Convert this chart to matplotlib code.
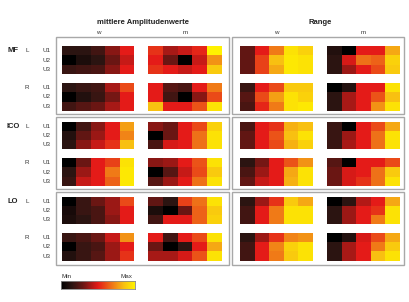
import numpy as np
import matplotlib
matplotlib.use("Agg")
import matplotlib.pyplot as plt
from matplotlib.colors import LinearSegmentedColormap
from matplotlib.patches import Rectangle

plt.rcParams["font.family"] = ["Liberation Sans", "DejaVu Sans"]

# werte 0 (min) .. 1 (max); je Liste: [L, R], je 3 Zeilen (U1..U3) x 5 Spalten
mf_amp_w = [[[0.15, 0.15, 0.20, 0.35, 0.50],
             [0.00, 0.10, 0.15, 0.30, 0.45],
             [0.18, 0.20, 0.22, 0.35, 0.50]],
            [[0.15, 0.18, 0.20, 0.40, 0.60],
             [0.00, 0.12, 0.18, 0.32, 0.50],
             [0.20, 0.25, 0.30, 0.40, 0.50]]]
mf_amp_m = [[[0.55, 0.40, 0.45, 0.52, 1.00],
             [0.50, 0.30, 0.00, 0.45, 0.75],
             [0.55, 0.50, 0.45, 0.50, 0.88]],
            [[0.50, 0.25, 0.22, 0.50, 0.70],
             [0.50, 0.20, 0.00, 0.35, 0.60],
             [0.85, 0.50, 0.50, 0.62, 0.95]]]
mf_rng_w = [[[0.28, 0.50, 0.70, 0.95, 0.90],
             [0.28, 0.58, 0.85, 0.97, 0.95],
             [0.28, 0.58, 0.80, 0.97, 0.95]],
            [[0.18, 0.50, 0.60, 0.88, 0.88],
             [0.25, 0.60, 0.78, 0.95, 0.90],
             [0.22, 0.52, 0.70, 0.95, 0.97]]]
mf_rng_m = [[[0.12, 0.00, 0.50, 0.50, 0.80],
             [0.15, 0.48, 0.68, 0.65, 0.90],
             [0.15, 0.38, 0.50, 0.60, 0.88]],
            [[0.00, 0.12, 0.50, 0.50, 0.95],
             [0.15, 0.40, 0.50, 0.62, 0.85],
             [0.15, 0.40, 0.50, 0.75, 0.95]]]

ico_amp_w = [[[0.00, 0.20, 0.35, 0.50, 0.78],
              [0.12, 0.28, 0.38, 0.50, 0.72],
              [0.15, 0.35, 0.45, 0.55, 0.85]],
             [[0.00, 0.30, 0.50, 0.58, 0.95],
              [0.15, 0.38, 0.50, 0.70, 0.97],
              [0.18, 0.45, 0.50, 0.65, 0.97]]]
ico_amp_m = [[[0.35, 0.30, 0.50, 0.60, 0.90],
              [0.00, 0.30, 0.50, 0.68, 0.95],
              [0.22, 0.48, 0.50, 0.68, 0.95]],
             [[0.35, 0.38, 0.50, 0.62, 0.95],
              [0.00, 0.25, 0.45, 0.60, 0.88],
              [0.25, 0.38, 0.50, 0.68, 0.95]]]
ico_rng_w = [[[0.22, 0.50, 0.55, 0.82, 0.85],
              [0.28, 0.50, 0.62, 0.85, 0.95],
              [0.28, 0.50, 0.60, 0.82, 0.90]],
             [[0.15, 0.32, 0.50, 0.62, 0.75],
              [0.22, 0.38, 0.50, 0.80, 0.95],
              [0.28, 0.45, 0.50, 0.82, 0.95]]]
ico_rng_m = [[[0.18, 0.00, 0.50, 0.60, 0.80],
              [0.18, 0.38, 0.50, 0.68, 0.95],
              [0.18, 0.40, 0.50, 0.68, 0.95]],
             [[0.25, 0.00, 0.50, 0.50, 0.60],
              [0.30, 0.48, 0.50, 0.68, 0.88],
              [0.30, 0.48, 0.55, 0.68, 0.95]]]

lo_amp_w = [[[0.00, 0.18, 0.30, 0.38, 0.60],
             [0.08, 0.18, 0.22, 0.38, 0.50],
             [0.10, 0.15, 0.22, 0.35, 0.50]],
            [[0.18, 0.22, 0.30, 0.45, 0.75],
             [0.00, 0.18, 0.22, 0.38, 0.50],
             [0.12, 0.18, 0.25, 0.38, 0.55]]]
lo_amp_m = [[[0.28, 0.15, 0.58, 0.68, 0.95],
             [0.10, 0.00, 0.30, 0.65, 0.88],
             [0.20, 0.50, 0.50, 0.65, 0.90]],
            [[0.50, 0.20, 0.50, 0.60, 0.95],
             [0.30, 0.00, 0.15, 0.50, 0.80],
             [0.40, 0.40, 0.48, 0.62, 0.95]]]
lo_rng_w = [[[0.15, 0.38, 0.55, 0.88, 0.80],
             [0.20, 0.50, 0.70, 0.95, 0.95],
             [0.20, 0.50, 0.70, 0.95, 0.95]],
            [[0.15, 0.38, 0.55, 0.72, 0.75],
             [0.20, 0.50, 0.72, 0.90, 0.95],
             [0.20, 0.50, 0.70, 0.88, 0.95]]]
lo_rng_m = [[[0.00, 0.15, 0.42, 0.50, 0.80],
             [0.15, 0.38, 0.50, 0.55, 0.95],
             [0.15, 0.38, 0.50, 0.70, 0.95]],
            [[0.00, 0.12, 0.48, 0.60, 0.80],
             [0.15, 0.40, 0.50, 0.70, 0.88],
             [0.15, 0.40, 0.50, 0.85, 0.95]]]

groups = ["MF", "ICO", "LO"]
sides = ["L", "R"]
rows = ["U1", "U2", "U3"]
measures = ["mittlere Amplitudenwerte", "Range"]
sexes = ["w", "m"]
data = {
    "MF": [mf_amp_w, mf_amp_m, mf_rng_w, mf_rng_m],
    "ICO": [ico_amp_w, ico_amp_m, ico_rng_w, ico_rng_m],
    "LO": [lo_amp_w, lo_amp_m, lo_rng_w, lo_rng_m],
}

cmap = LinearSegmentedColormap.from_list("minmax", [
    (0.00, "#000000"), (0.15, "#2c1512"), (0.30, "#6b1714"),
    (0.50, "#e41b18"), (0.70, "#f07a18"), (0.85, "#f8c012"),
    (1.00, "#fff200")])

W, H = 410, 302
fig = plt.figure(figsize=(W / 100, H / 100), dpi=100)


def box(x0, y0, x1, y1):
    # pixel coords (top-left origin) -> figure fraction
    return [x0 / W, 1 - y1 / H, (x1 - x0) / W, (y1 - y0) / H]


def ftxt(x, y, s, **kw):
    fig.text(x / W, 1 - y / H, s, ha="center", va="center", **kw)


col_x = [(62, 134), (148, 222), (240, 313), (327, 400)]
row_y = {"MF": [(46, 74), (83, 111)],
         "ICO": [(122, 149), (158, 186)],
         "LO": [(197, 224), (233, 261)]}
panel_y = {"MF": (37, 114), "ICO": (117, 189), "LO": (192, 265)}
panel_x = [(56, 229), (232, 404)]

for g in groups:
    for px0, px1 in panel_x:
        py0, py1 = panel_y[g]
        fig.patches.append(Rectangle((px0 / W, 1 - py1 / H), (px1 - px0) / W,
                                     (py1 - py0) / H, transform=fig.transFigure,
                                     fill=False, ec="#a8a8a8", lw=1.0))
    for si, s in enumerate(sides):
        y0, y1 = row_y[g][si]
        for ci, (x0, x1) in enumerate(col_x):
            ax = fig.add_axes(box(x0, y0, x1, y1))
            ax.imshow(np.array(data[g][ci][si]), cmap=cmap, vmin=0, vmax=1,
                      aspect="auto", interpolation="nearest")
            ax.set_axis_off()
        ftxt(27, y0 + (y1 - y0) / 6, s, fontsize=4.5, color="#333333")
        for ri, r in enumerate(rows):
            ftxt(47, y0 + (y1 - y0) * (ri + 0.5) / 3, r, fontsize=4.5,
                 color="#333333")
    ftxt(13, row_y[g][0][0] + (row_y[g][0][1] - row_y[g][0][0]) / 6, g,
         fontsize=5.5, fontweight="bold", color="#222222")

# ueberschriften
ftxt(143, 22, measures[0], fontsize=5.5, fontweight="bold", color="#222222")
ftxt(320, 22, measures[1], fontsize=5.5, fontweight="bold", color="#222222")
for ci, (x0, x1) in enumerate(col_x):
    ftxt((x0 + x1) / 2, 33, sexes[ci % 2], fontsize=4.5, color="#333333")

# farbskala
cax = fig.add_axes(box(61, 281, 135, 289))
cax.imshow(np.linspace(0, 1, 256)[None, :], cmap=cmap, aspect="auto")
cax.set_xticks([])
cax.set_yticks([])
for sp in cax.spines.values():
    sp.set_color("#888888")
    sp.set_linewidth(0.6)
ftxt(67, 276, "Min", fontsize=4.5, color="#333333")
ftxt(126, 276, "Max", fontsize=4.5, color="#333333")

fig.savefig("out.png", dpi=100)
